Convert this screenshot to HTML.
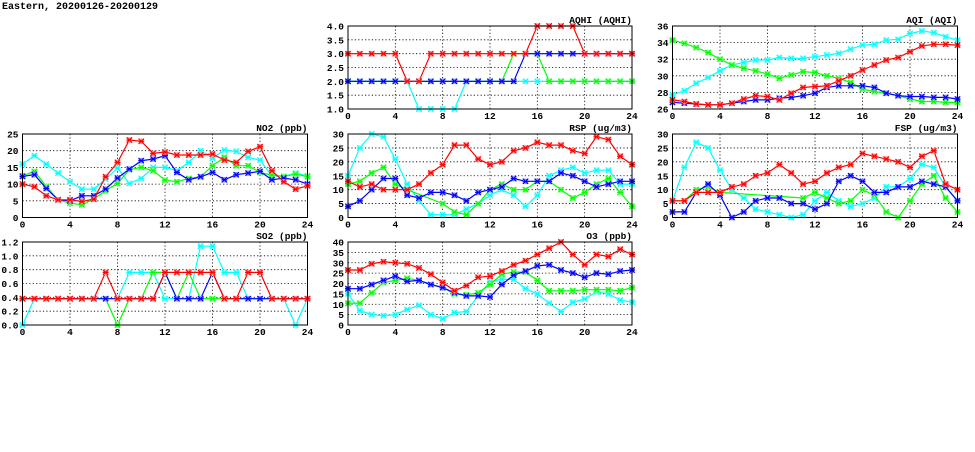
<!DOCTYPE html>
<html><head><meta charset="utf-8"><style>
html,body{margin:0;padding:0;background:#fff;}
svg text{font-family:"Liberation Mono",monospace;font-weight:bold;font-size:10px;fill:#000;}
svg text.tk{font-size:9.5px;}
</style></head><body>
<svg id="chart" width="975" height="447" viewBox="0 0 975 447" xmlns="http://www.w3.org/2000/svg">
<text x="2" y="9">Eastern, 20200126-20200129</text>
</svg>
<script>
const hours = [0,1,2,3,4,5,6,7,8,9,10,11,12,13,14,15,16,17,18,19,20,21,22,23,24];
const xTicks = [0,4,8,12,16,20,24];
const seriesColors = ['#ff0000','#0000ff','#00ff00','#00ffff'];
const markerFills = ['#ff9090','#9090ff','#90ff90','#a0ffff'];

const no2Red   = [10,9.2,6.5,5.3,5.3,4.8,5.5,12.2,16.5,23.2,22.8,19.2,19.6,18.7,18.7,18.7,19,17.2,16.5,19.8,21.2,14,10.7,8.5,9.5];
const no2Blue  = [12.3,12.8,8.7,5.3,5,6.5,6.5,8.5,11.8,14.5,17,17.5,18.5,13.5,11.3,12.2,13.5,11.3,12.8,13.3,13.8,11.3,11.8,11.3,10];
const no2Green = [12.5,13.8,9.3,5.3,4.3,3.8,5.5,8,10.2,14.3,15,14,11.2,10.7,11.7,12.2,15.5,18,15.5,15.5,13.5,12.7,12.3,13,12.2];
const no2Cyan  = [16,18.5,16,13.3,10.7,8.5,8.5,11.5,14.8,10.2,11.7,15,15,14,16.5,20,17.8,20.2,19.8,18,17.2,12.5,12.3,13.3,12.5];
const no2Ticks = [0,5,10,15,20,25];

const aqhiRed   = [3,3,3,3,3,2,2,3,3,3,3,3,3,3,3,3,4,4,4,4,3,3,3,3,3];
const aqhiBlue  = [2,2,2,2,2,2,2,2,2,2,2,2,2,2,2,3,3,3,3,3,3,3,3,3,3];
const aqhiGreen = [2,2,2,2,2,2,2,2,2,2,2,2,2,2,3,3,3,2,2,2,2,2,2,2,2];
const aqhiCyan  = [2,2,2,2,2,2,1,1,1,1,2,2,2,2,2,2,2,2,2,2,2,2,2,2,2];
const aqhiTicks = [1.0,1.5,2.0,2.5,3.0,3.5,4.0];

const aqiRed   = [27.1,26.9,26.6,26.5,26.5,26.7,27.2,27.6,27.5,27.1,27.9,28.6,28.7,28.8,29.4,30.0,30.7,31.3,31.9,32.2,32.9,33.6,33.8,33.8,33.7];
const aqiBlue  = [26.8,26.7,26.6,26.5,26.5,26.7,26.9,27.1,27.1,27.3,27.4,27.6,27.9,28.6,28.8,28.8,28.8,28.6,27.9,27.6,27.5,27.5,27.4,27.4,27.2];
const aqiGreen = [34.3,33.9,33.4,32.8,32.0,31.3,30.9,30.6,30.2,29.7,30.1,30.5,30.4,30.0,29.7,29.2,28.4,28.1,27.9,27.6,27.2,26.9,26.9,26.8,26.8];
const aqiCyan  = [27.7,28.2,29.1,29.8,30.6,31.3,31.6,31.9,31.9,32.2,32.1,32.1,32.3,32.5,32.7,33.2,33.7,33.8,34.3,34.4,35.1,35.4,35.2,34.7,34.3];
const aqiTicks = [26,28,30,32,34,36];

const rspRed   = [13,11,12,10,10,10,12,16,19,26,26,21,19,20,24,25,27,26,26,24,23,29,28,22,19];
const rspBlue  = [4,6,10,14,14,8,7,9,9,8,6,9,10,11,14,13,13,13,16,15,13,11,12,13,13];
const rspGreen = [12,13,16,18,12,10,null,null,5,2,1,5,10,12,10,10,13,13,10,7,9,12,14,9,4];
const rspCyan  = [15,25,30,29,21,12,6,1,1,1,3,5,8,10,8,4,8,15,17,18,16,17,17,12,12];
const rspTicks = [0,5,10,15,20,25,30];

const fspRed   = [6,6,9,9,9,11,12,15,16,19,16,12,13,16,18,19,23,22,21,20,18,22,24,12,10];
const fspBlue  = [2,2,9,12,8,0,2,6,7,7,5,5,3,5,13,15,13,9,9,11,11,13,12,11,6];
const fspGreen = [6,6,10,11,9,null,null,null,null,null,null,7,9,7,5,6,10,8,2,0,6,12,15,7,2];
const fspCyan  = [6,18,27,25,17,10,7,3,2,1,0,1,6,9,6,4,5,7,11,11,14,19,18,11,6];
const fspTicks = [0,5,10,15,20,25,30];

const so2Red   = [0.38,0.38,0.38,0.38,0.38,0.38,0.38,0.76,0.38,0.38,0.38,0.38,0.76,0.76,0.76,0.76,0.76,0.38,0.38,0.76,0.76,0.38,0.38,0.38,0.38];
const so2Blue  = [0.38,0.38,0.38,0.38,0.38,0.38,0.38,0.38,0.38,0.38,0.38,0.38,0.76,0.38,0.38,0.38,0.76,0.38,0.38,0.38,0.38,0.38,0.38,0.38,0.38];
const so2Green = [0.38,0.38,0.38,0.38,0.38,0.38,0.38,0.38,0,0.38,0.38,0.76,0.76,0.38,0.76,0.38,0.38,0.38,0.38,0.38,0.38,0.38,0.38,0.38,0.38];
const so2Cyan  = [0,0.38,0.38,0.38,0.38,0.38,0.38,0.38,0.38,0.76,0.76,0.76,0.38,0.38,0.38,1.14,1.14,0.76,0.76,0.38,0.38,0.38,0.38,0,0.38];
const so2Ticks = [0.0,0.2,0.4,0.6,0.8,1.0,1.2];

const o3Red   = [26.5,26.5,29.5,30.5,30,29.5,27.5,24.5,20.5,16.5,19,23,23.5,26,29,31,34,37,40,34,29,34,33,36.5,34];
const o3Blue  = [17.5,17.5,19.5,21.5,23.5,21,21.5,19.5,18,15.5,14,14,13.5,19.5,24,26,28.5,29,26.5,25,23,25,24.5,26,26.5];
const o3Green = [10.5,10.5,15.5,20.5,21.5,22.5,21.5,19.5,18,15,14.5,15.5,19.5,24.5,25.5,25.5,21.5,16.5,16.5,16.5,17,17,17,16.5,18];
const o3Cyan  = [15,7,5,4.5,5,7.5,9.5,5,3,6,6.5,14,21,22,22,17.5,15,10.5,6.5,11,12.5,16,15,12,11];
const o3Ticks = [0,5,10,15,20,25,30,35,40];

const NS = 'http://www.w3.org/2000/svg';
const svg = document.getElementById('chart');
function mk(tag, attrs, parent){
  const e = document.createElementNS(NS, tag);
  for (const k in attrs) e.setAttribute(k, attrs[k]);
  (parent||svg).appendChild(e);
  return e;
}

function panel(key, title, box, ticks, decimals, series){
  const g = mk('g', {});
  
  
  const ymin = ticks[0], ymax = ticks[ticks.length-1];
  const xs = h => box.x0 + (h/24)*(box.x1-box.x0);
  const ys = v => box.y1 - ((v-ymin)/(ymax-ymin))*(box.y1-box.y0);
  ticks.forEach((t,i)=>{
    const y = ys(t);
    if (i>0 && i<ticks.length-1){
      const l = mk('line',{x1:box.x0,x2:box.x1,y1:y,y2:y,stroke:'#000','stroke-width':0.8,'stroke-dasharray':'1.2,2.2'},g);
      
      
    }
    const tx = mk('text',{x:box.x0-4,y:y+3.5,'text-anchor':'end','class':'tk'},g);
    tx.textContent = t.toFixed(decimals);
    
    
  });
  xTicks.forEach((t,i)=>{
    const x = xs(t);
    if (i>0 && i<xTicks.length-1){
      const l = mk('line',{x1:x,x2:x,y1:box.y0,y2:box.y1,stroke:'#000','stroke-width':0.8,'stroke-dasharray':'1.2,2.2'},g);
      
      
    }
    const tx = mk('text',{x:x,y:box.y1+10,'text-anchor':'middle','class':'tk'},g);
    tx.textContent = String(t);
    
    
  });
  const names = ['red','blue','green','cyan'];
  const order = [3,2,1,0];
  order.forEach(si=>{
    const vals = series[si];
    const pts = [];
    vals.forEach((v,i)=>{ if (v!==null && v!==undefined) pts.push([xs(hours[i]), ys(v)]); });
    const pl = mk('polyline',{points:pts.map(p=>p[0].toFixed(1)+','+p[1].toFixed(1)).join(' '),fill:'none',stroke:seriesColors[si],'stroke-width':1.2},g);
    
    
    pts.forEach(p=>{
      const mg = mk('g',{},g);
      
      
      mk('rect',{x:p[0]-2.7,y:p[1]-2.7,width:5.4,height:5.4,fill:markerFills[si]},mg);
      mk('path',{d:`M${p[0]-2.7},${p[1]-2.7}L${p[0]+2.7},${p[1]+2.7}M${p[0]+2.7},${p[1]-2.7}L${p[0]-2.7},${p[1]+2.7}M${p[0]-3},${p[1]}L${p[0]+3},${p[1]}`,stroke:seriesColors[si],'stroke-width':1.1},mg);
    });
  });
  const fr = mk('rect',{x:box.x0,y:box.y0,width:box.x1-box.x0,height:box.y1-box.y0,fill:'none',stroke:'#000','stroke-width':1},g);
  
  
  const tt = mk('text',{x:box.x1,y:box.y0-3,'text-anchor':'end','class':'tk'},g);
  tt.textContent = title;
  
  
}

const C1={x0:22.5,x1:307.5}, C2={x0:348,x1:632}, C3={x0:672.5,x1:957.5};
const R1={y0:26,y1:109}, R2={y0:134,y1:217.5}, R3={y0:242,y1:325};
panel('aqhi','AQHI (AQHI)',{...C2,...R1},aqhiTicks,1,[aqhiRed,aqhiBlue,aqhiGreen,aqhiCyan]);
panel('aqi','AQI (AQI)',{...C3,...R1},aqiTicks,0,[aqiRed,aqiBlue,aqiGreen,aqiCyan]);
panel('no2','NO2 (ppb)',{...C1,...R2},no2Ticks,0,[no2Red,no2Blue,no2Green,no2Cyan]);
panel('rsp','RSP (ug/m3)',{...C2,...R2},rspTicks,0,[rspRed,rspBlue,rspGreen,rspCyan]);
panel('fsp','FSP (ug/m3)',{...C3,...R2},fspTicks,0,[fspRed,fspBlue,fspGreen,fspCyan]);
panel('so2','SO2 (ppb)',{...C1,...R3},so2Ticks,1,[so2Red,so2Blue,so2Green,so2Cyan]);
panel('o3','O3 (ppb)',{...C2,...R3},o3Ticks,0,[o3Red,o3Blue,o3Green,o3Cyan]);
</script>
</body></html>
